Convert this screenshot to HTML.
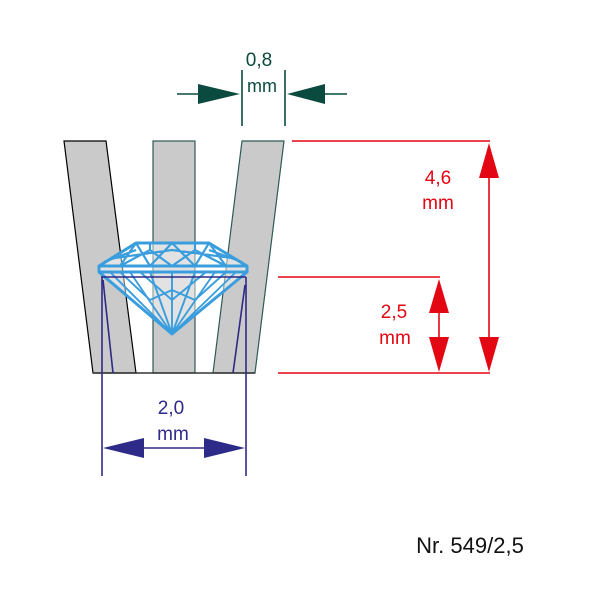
<!DOCTYPE html>
<html><head><meta charset="utf-8"><style>
html,body{margin:0;padding:0;background:#fff;}
svg{display:block;}
text{font-family:"Liberation Sans",sans-serif;}
</style></head><body>
<svg width="600" height="600" viewBox="0 0 600 600" xmlns="http://www.w3.org/2000/svg">
<!-- prongs -->
<polygon points="64,141 106,141 136,373 93,373" fill="#cbcacb" stroke="#000" stroke-width="1.2"/>
<rect x="153" y="141" width="42" height="232" fill="#cbcacb" stroke="#2f5a55" stroke-width="1.2"/>
<polygon points="242,141 284,141 255,373 213,373" fill="#cbcacb" stroke="#2f5a55" stroke-width="1.2"/>
<line x1="93" y1="373" x2="255" y2="373" stroke="#333" stroke-width="1.5"/>
<!-- diamond -->
<g stroke="#3a9ede" fill="none" stroke-width="3" stroke-linejoin="round">
<polygon points="136,243 209,243 247,266 247,272 172,334 99,272 99,266" fill="#fff" fill-opacity="0.45"/>
<line x1="99" y1="266" x2="247" y2="266"/>
<line x1="99" y1="272" x2="247" y2="272"/>
<path d="M136,243 L120,266 M209,243 L226,266 M136,243 L150,266 L172,243 L195,266 L209,243 M150,266 L136,243 M120,266 L150,250 L172,266 L195,250 L226,266 M115,258 L172,250 L232,258 M150,250 L150,243 M195,250 L195,243 M104,262 L136,250 M242,262 L209,250" stroke-width="2.2"/>
<path d="M172,334 L110,272 M172,334 L130,272 M172,334 L150,272 M172,334 L172,272 M172,334 L195,272 M172,334 L215,272 M172,334 L236,272 M120,272 L150,300 M226,272 L195,300 M140,272 L172,300 L206,272 M150,300 L172,290 L195,300" stroke-width="1.9"/>
</g>
<!-- purple -->
<g stroke="#2e2a87" stroke-width="1.6" fill="none">
<line x1="101" y1="277" x2="246" y2="277"/>
<line x1="102" y1="277" x2="102" y2="476"/>
<line x1="246" y1="277" x2="246" y2="476"/>
<line x1="103" y1="280" x2="113" y2="373"/>
<line x1="245" y1="285" x2="233" y2="373"/>
<line x1="144" y1="448" x2="204" y2="448"/>
</g>
<polygon points="103,448 144,438 144,458" fill="#2e2a87"/>
<polygon points="245,448 204,438 204,458" fill="#2e2a87"/>
<text x="171" y="414" font-size="19" fill="#2e2a87" text-anchor="middle">2,0</text>
<text x="173" y="440" font-size="19" fill="#2e2a87" text-anchor="middle">mm</text>
<!-- top dim -->
<g stroke="#0b4a3e" stroke-width="1.6">
<line x1="242" y1="70" x2="242" y2="126"/>
<line x1="285" y1="70" x2="285" y2="126"/>
<line x1="177" y1="94" x2="200" y2="94"/>
<line x1="325" y1="94" x2="347" y2="94"/>
</g>
<polygon points="240,94 198,84 198,104" fill="#0b4a3e"/>
<polygon points="287,94 325,84 325,104" fill="#0b4a3e"/>
<text x="259" y="66" font-size="19" fill="#0b4a3e" text-anchor="middle">0,8</text>
<text x="262" y="92" font-size="18" fill="#0b4a3e" text-anchor="middle">mm</text>
<!-- red -->
<g stroke="#e30613" stroke-width="1.6">
<line x1="292" y1="141" x2="490" y2="141"/>
<line x1="278" y1="277" x2="440" y2="277"/>
<line x1="278" y1="373" x2="490" y2="373"/>
<line x1="489" y1="170" x2="489" y2="345"/>
<line x1="439" y1="305" x2="439" y2="345"/>
</g>
<polygon points="489,143 479,178 499,178" fill="#e30613"/>
<polygon points="489,372 479,337 499,337" fill="#e30613"/>
<polygon points="439,279 429,313 449,313" fill="#e30613"/>
<polygon points="439,372 429,337 449,337" fill="#e30613"/>
<text x="438" y="184" font-size="19" fill="#e30613" text-anchor="middle">4,6</text>
<text x="438" y="209" font-size="19" fill="#e30613" text-anchor="middle">mm</text>
<text x="394" y="318" font-size="19" fill="#e30613" text-anchor="middle">2,5</text>
<text x="395" y="344" font-size="19" fill="#e30613" text-anchor="middle">mm</text>
<text x="470" y="553" font-size="22" fill="#111" text-anchor="middle">Nr. 549/2,5</text>
</svg>
</body></html>
